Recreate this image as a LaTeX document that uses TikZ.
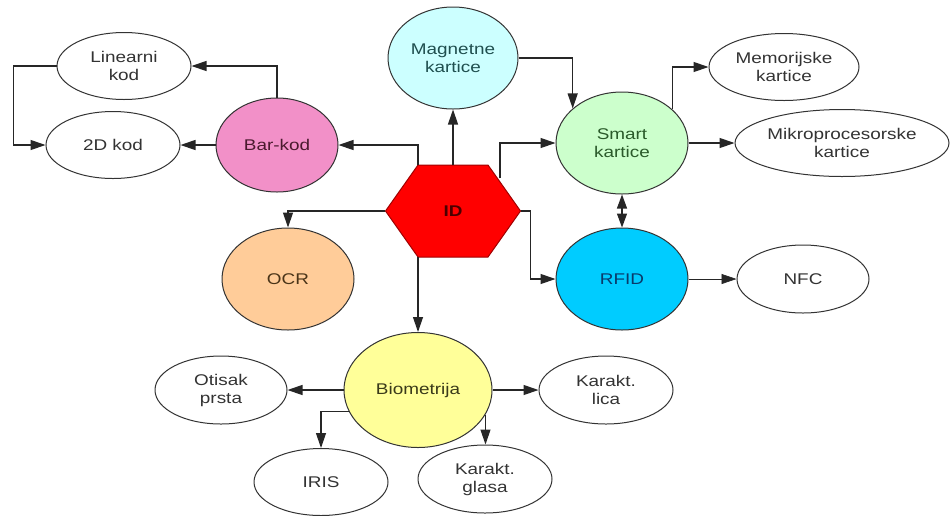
\documentclass[tikz,border=0pt]{standalone}
\usepackage{fontspec}
\setmainfont{Liberation Sans}[FakeStretch=1.22]
\usetikzlibrary{shapes.geometric,arrows.meta,calc}
\definecolor{magc}{HTML}{CCFFFF}\definecolor{magt}{HTML}{1F4F4F}
\definecolor{smartc}{HTML}{CCFFCC}\definecolor{smartt}{HTML}{2A5A2A}
\definecolor{rfidc}{HTML}{00CCFF}\definecolor{rfidt}{HTML}{0A3A6A}
\definecolor{ocrc}{HTML}{FFCC99}\definecolor{ocrt}{HTML}{4A3418}
\definecolor{barc}{HTML}{F290C8}\definecolor{bart}{HTML}{4A1A2E}
\definecolor{bioc}{HTML}{FFFF99}\definecolor{biot}{HTML}{3A3A1A}
\definecolor{idc}{HTML}{FF0000}\definecolor{idb}{HTML}{A00000}\definecolor{idt}{HTML}{4A0000}
\begin{document}
\begin{tikzpicture}[x=1pt,y=-1pt,
  font=\fontsize{15.5}{18}\selectfont,
  ell/.style={ellipse, draw=black!80, line width=1pt, inner sep=0pt, align=center, text=black!80},
  circ/.style={ellipse, draw=black!80, line width=1pt, inner sep=0pt, align=center,
               minimum width=132pt, minimum height=102pt},
  con/.style={line width=1.2pt, draw=black!85, -{Triangle[length=15pt,width=10pt]}},
  dcon/.style={line width=1.2pt, draw=black!85, {Triangle[length=14pt,width=10pt]}-{Triangle[length=14pt,width=10pt]}},
]
\useasboundingbox (0,0) rectangle (952,515);
\fill[white] (0,0) rectangle (952,515);
% hexagon vertices
\coordinate (hw) at (385.5,211);
\coordinate (htl) at (418,165);
\coordinate (htr2) at (488,165);
\coordinate (he) at (520.5,211);
\coordinate (hbr) at (488,257);
\coordinate (hbl) at (418,257);
\coordinate (htr) at (500,178);
\filldraw[fill=idc, draw=idb, line width=1pt] (hw) -- (htl) -- (htr2) -- (he) -- (hbr) -- (hbl) -- cycle;
\node[inner sep=0pt, minimum width=135pt, minimum height=92pt, text=idt, font=\fontsize{15.5}{18}\selectfont\bfseries] (ID) at (453,211) {ID};

\node[circ, fill=magc, text=magt, minimum width=130pt] (mag) at (453,58) {Magnetne\\kartice};
\node[circ, fill=smartc, text=smartt] (smart) at (622,143) {Smart\\kartice};
\node[circ, fill=rfidc, text=rfidt] (rfid) at (622,279) {RFID};
\node[circ, fill=ocrc, text=ocrt] (ocr) at (288,279) {OCR};
\node[circ, fill=barc, text=bart, minimum width=122pt, minimum height=94pt] (bar) at (277,145) {Bar-kod};
\node[circ, fill=bioc, text=biot, minimum width=148pt, minimum height=115pt] (bio) at (418,390) {Biometrija};

\node[ell, minimum width=134pt, minimum height=67pt] (lin) at (124,66) {Linearni\\kod};
\node[ell, minimum width=134pt, minimum height=67pt] (twod) at (113,145) {2D kod};
\node[ell, minimum width=150pt, minimum height=67pt] (mem) at (784,67) {Memorijske\\kartice};
\node[ell, minimum width=214pt, minimum height=67pt] (mik) at (842,143) {Mikroprocesorske\\kartice};
\node[ell, minimum width=132pt, minimum height=68pt] (nfc) at (803,279) {NFC};
\node[ell, minimum width=132pt, minimum height=68pt] (ot) at (221,390) {Otisak\\prsta};
\node[ell, minimum width=134pt, minimum height=67pt] (iris) at (321,482) {IRIS};
\node[ell, minimum width=134pt, minimum height=68pt] (glasa) at (485,479) {Karakt.\\glasa};
\node[ell, minimum width=134pt, minimum height=68pt] (lica) at (606,390) {Karakt.\\lica};

\draw[con] (ID.north) -- (mag.south);
\draw[con] (mag.east) -| (smart.145);
\draw[con] (smart.34) |- (mem.west);
\draw[con] (smart.east) -- (mik.west);
\draw[con] (htr) |- (smart.west);
\draw[dcon] (smart.south) -- (rfid.north);
\draw[con] (ID.east) -- ++(10,0) |- (rfid.west);
\draw[con, line width=0.7pt] (rfid.east) -- (nfc.west);
\draw[con] (htl) |- (bar.east);
\draw[con] (bar.north) |- (lin.east);
\draw[con] (bar.west) -- (twod.east);
\draw[con] (lin.west) -- ++(-43,0) |- (twod.west);
\draw[con] (ID.west) -| (ocr.north);
\draw[con] (hbl) -- (bio.north);
\draw[con] (bio.west) -- (ot.east);
\draw[con] (bio.197) -| (iris.north);
\draw[con] (bio.340) -- (bio.340 |- glasa.north);
\draw[con] (bio.east) -- (lica.west);
\end{tikzpicture}
\end{document}
